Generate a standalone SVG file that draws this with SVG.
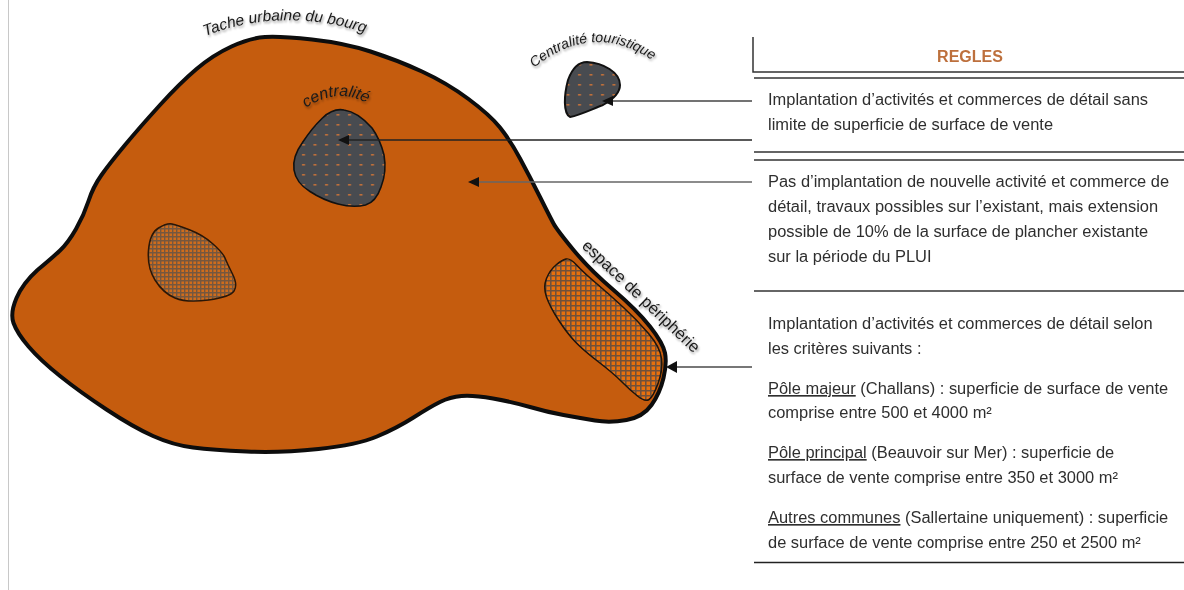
<svg xmlns="http://www.w3.org/2000/svg" width="1184" height="590" viewBox="0 0 1184 590">
<style>
.rule{font:16.45px "Liberation Sans",Arial,sans-serif;fill:#2f2f2f}
.lab{font:italic 15.5px "Liberation Sans",Arial,sans-serif;fill:#1a1a1a}
.line{stroke:#333;stroke-width:1.5;fill:none}
.conn{stroke:#555;stroke-width:1.5;fill:none}
</style>
<defs>
<pattern id="dots" width="11.5" height="10" patternUnits="userSpaceOnUse"><rect width="11.5" height="10" fill="#484b50"/><rect x="3" y="4" width="3" height="1.6" fill="#c0703a"/></pattern>
<pattern id="checkA" width="4" height="4" patternUnits="userSpaceOnUse"><rect width="4" height="4" fill="#cf6c1c"/><path d="M0 .7H4M.7 0V4" stroke="#75573f" stroke-width="1.4"/></pattern>
<pattern id="checkB" width="5" height="5" patternUnits="userSpaceOnUse"><rect width="5" height="5" fill="#e8700f"/><path d="M0 .8H5M.8 0V5" stroke="#71513b" stroke-width="1.6"/></pattern>
<filter id="sh" x="-10%" y="-30%" width="120%" height="170%"><feDropShadow dx="1" dy="2" stdDeviation="1.2" flood-color="#000" flood-opacity=".4"/></filter>
<filter id="soft"><feGaussianBlur stdDeviation="0.35"/></filter>
<path id="p1" d="M205 36Q285 5 372 35"/>
<path id="p2" d="M534 68Q597 16 663 68"/>
<path id="p3" d="M306 108Q340 84 376 108"/>
<path id="p4" d="M581 247L694 354"/>
</defs>
<rect width="1184" height="590" fill="#fff"/>
<path d="M8.5 0V590" stroke="#c8c8c8" stroke-width="1"/>
<g id="tache-urbaine">
<path d="M265 37Q280 36 312 39.5Q344 43 370.5 51.5Q397 60 422 71.5Q447 83 468.5 99Q490 115 500 127.5Q510 140 520 158.5Q530 177 540 197Q550 217 553.5 223.5Q557 230 573.5 250Q590 270 613.5 290Q637 310 650 326.5Q663 343 665 353Q667 363 663.5 378Q660 393 651.5 405Q643 417 626.5 420Q610 423 595 420.5Q580 418 563.5 415Q547 412 530 407Q513 402 493 398.5Q473 395 461.5 396Q450 397 440 402Q430 407 413.5 417.5Q397 428 377 436.5Q357 445 318.5 449Q280 453 246.5 451.5Q213 450 193 447.5Q173 445 153 436Q133 427 106.5 409.5Q80 392 60 376Q40 360 28.5 346.5Q17 333 13.5 323Q10 313 16.5 298Q23 283 37.5 270Q52 258 60 250.5Q68 243 76 229Q84 215 88.5 201Q93 187 101.5 175Q110 163 125 145Q140 127 160 105Q180 83 196.5 69Q213 55 231.5 46.5Q250 38 265 37Z" fill="#c55c0e" stroke="#0d0d0d" stroke-width="4" stroke-linejoin="round"/>
<text class="lab" filter="url(#sh)"><textPath href="#p1">Tache urbaine du bourg</textPath></text>
</g>
<g id="centralite">
<path d="M344 110Q333 108 322.5 118Q312 128 302.5 142.5Q292 157 294 170Q296 183 310 191.5Q323 200 338 204Q353 208 365.5 205Q376 202 381 187Q387 172 384 155Q380 139 372 128Q358 112 344 110Z" fill="url(#dots)" stroke="#111" stroke-width="1.6"/>
<text class="lab" filter="url(#sh)" style="font-size:16px"><textPath href="#p3">centralité</textPath></text>
</g>
<g id="centralite-touristique">
<path d="M587 62C603 63 620 72 620 85C620 93 612 100 603 105C590 110 580 115 570 117C563 113 564 95 568 80C572 69 578 62 587 62Z" fill="url(#dots)" stroke="#111" stroke-width="2"/>
<text class="lab" filter="url(#sh)" style="font-size:14px"><textPath href="#p2">Centralité touristique</textPath></text>
</g>
<g id="poche">
<path d="M172 224Q177 225 190 230Q203 235 213 244Q223 253 225 258Q227 263 232.5 274Q238 285 234 291Q230 297 208.5 300Q187 303 175 298Q163 293 155 280Q147 267 148.5 250Q150 233 158.5 228Q167 223 172 224Z" fill="url(#checkA)" stroke="#2a1606" stroke-width="1.5"/>
</g>
<g id="espace-peripherie">
<path d="M566 259Q570 258 576.5 265Q583 272 596.5 283.5Q610 295 623.5 307.5Q637 320 648.5 333.5Q660 347 661.5 358.5Q663 370 658 383.5Q653 397 649 399.5Q645 402 637.5 396Q630 390 621.5 381.5Q613 373 598 361.5Q583 350 575 341.5Q567 333 558.5 320Q550 307 546.5 297Q543 287 546.5 278.5Q550 270 556 265Q562 260 566 259Z" fill="url(#checkB)" stroke="#1c1208" stroke-width="1.5" filter="url(#soft)"/>
<text filter="url(#sh)" style="font:16.6px 'Liberation Sans',Arial,sans-serif;fill:#1a1a1a"><textPath href="#p4">espace de périphérie</textPath></text>
</g>
<g id="connecteurs">
<line class="conn" x1="752" y1="101" x2="612" y2="101" style="stroke:#444"/>
<path d="M613 96L602 101L613 106Z" fill="#111"/>
<line class="conn" x1="752" y1="140" x2="349" y2="140" style="stroke:#222"/>
<path d="M349 135L338 140L349 145Z" fill="#111"/>
<line class="conn" x1="752" y1="182" x2="479" y2="182" style="stroke:#666"/>
<path d="M479 177L468 182L479 187Z" fill="#111"/>
<line class="conn" x1="752" y1="367" x2="677" y2="367" style="stroke:#777;stroke-width:2"/>
<path d="M677 361L666 367L677 373Z" fill="#111"/>
</g>
<g id="regles">
<path class="line" d="M753 37V72H1184M754 78H1184M754 152H1184M754 160H1184"/>
<path d="M754 291H1184" stroke="#666" stroke-width="2"/>
<path d="M754 562.5H1184" stroke="#222" stroke-width="1.5"/>
<g filter="url(#soft)">
<text x="970" y="62" text-anchor="middle" style="font:bold 16px 'Liberation Sans',Arial,sans-serif;fill:#bd6f3c">REGLES</text>
<text class="rule" x="768" y="105">Implantation d’activités et commerces de détail sans</text>
<text class="rule" x="768" y="130">limite de superficie de surface de vente</text>
<text class="rule" x="768" y="187">Pas d’implantation de nouvelle activité et commerce de</text>
<text class="rule" x="768" y="212">détail, travaux possibles sur l’existant, mais extension</text>
<text class="rule" x="768" y="237">possible de 10% de la surface de plancher existante</text>
<text class="rule" x="768" y="262">sur la période du PLUI</text>
<text class="rule" x="768" y="329">Implantation d’activités et commerces de détail selon</text>
<text class="rule" x="768" y="354">les critères suivants :</text>
<text class="rule" x="768" y="394"><tspan text-decoration="underline">Pôle majeur</tspan> (Challans) : superficie de surface de vente</text>
<text class="rule" x="768" y="418">comprise entre 500 et 4000 m²</text>
<text class="rule" x="768" y="458"><tspan text-decoration="underline">Pôle principal</tspan> (Beauvoir sur Mer) : superficie de</text>
<text class="rule" x="768" y="483">surface de vente comprise entre 350 et 3000 m²</text>
<text class="rule" x="768" y="523"><tspan text-decoration="underline">Autres communes</tspan> (Sallertaine uniquement) : superficie</text>
<text class="rule" x="768" y="548">de surface de vente comprise entre 250 et 2500 m²</text>
</g>
</g>
</svg>
